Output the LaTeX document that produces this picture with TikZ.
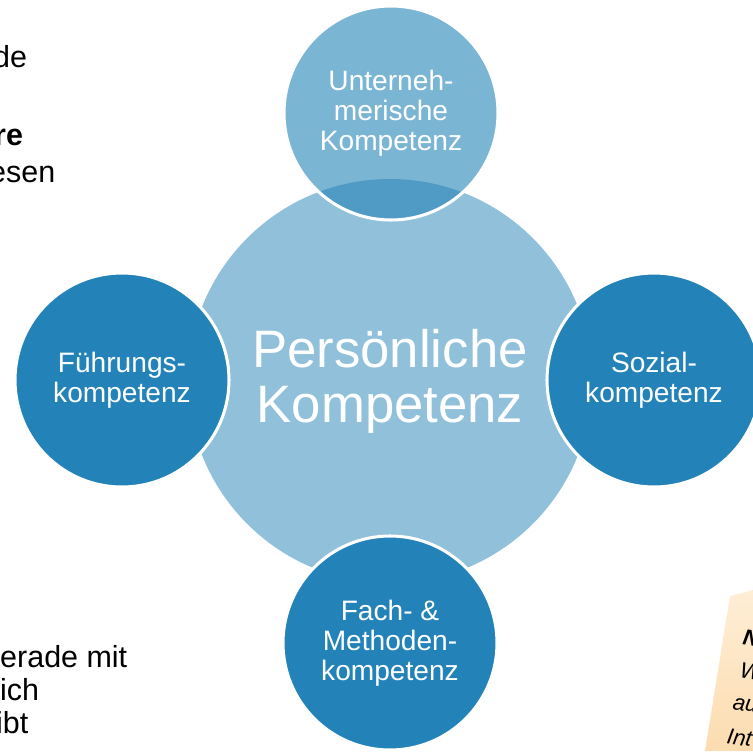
\documentclass[tikz,border=0pt]{standalone}
\usepackage{fontspec}
\setmainfont{Liberation Sans}
\definecolor{kblue}{RGB}{35,131,184}
\definecolor{kcenter}{RGB}{145,193,218}
\definecolor{notetop}{RGB}{254,238,214}
\definecolor{notebot}{RGB}{252,220,176}

\begin{document}
\begin{tikzpicture}[x=0.03cm,y=-0.03cm]

% Styles
\tikzset{
    core/.style={circle,fill=kcenter,minimum size=12.12cm,inner sep=0,
        text=white,align=center,font=\fontsize{45}{47}\selectfont},
    satellite/.style={circle,fill=kblue,draw=white,line width=2.6pt,
        minimum size=6.42cm,inner sep=0,text=white,align=center,
        font=\fontsize{24}{25.5}\selectfont},
    slidetext/.style={anchor=base west,inner sep=0,
        font=\fontsize{26}{28}\selectfont},
    notetext/.style={anchor=base west,inner sep=0,rotate=-9,
        font=\itshape\fontsize{19}{20}\selectfont}
}

\useasboundingbox (0,0) rectangle (753,751);
\clip (0,0) rectangle (753,751);

% Slide text behind the diagram
\node[slidetext] (t1) at (-7,67) {de};
\node[slidetext,font=\bfseries\fontsize{26}{28}\selectfont] (t2) at (-6,145) {re};
\node[slidetext] (t3) at (-11,182) {esen};
\node[slidetext] (t4) at (0,667) {erade mit};
\node[slidetext] (t5) at (0,700) {ich};
\node[slidetext] (t6) at (-4,733) {ibt};

% Note
\shade[top color=notetop,bottom color=notebot]
    (730,596) -- (753,590) -- (753,751) -- (705,751) -- cycle;
\node[notetext,font=\bfseries\itshape\fontsize{19}{20}\selectfont] (n1) at (742,644) {N};
\node[notetext] (n2) at (739,677) {W};
\node[notetext] (n3) at (732,709) {au};
\node[notetext] (n4) at (726,743) {Int};

% Circles
\node[core] (pers) at (390,381) {Persönliche\\Kompetenz};
\node[satellite,fill opacity=0.6,text opacity=1] (unternehm) at (391,113)
    {Unterneh-\\merische\\Kompetenz};
\node[satellite] (fuehr) at (122,380) {Führungs-\\kompetenz};
\node[satellite] (sozial) at (654,380) {Sozial-\\kompetenz};
\node[satellite] (fach) at (390,643) {Fach- \&\\Methoden-\\kompetenz};

\end{tikzpicture}
\end{document}
